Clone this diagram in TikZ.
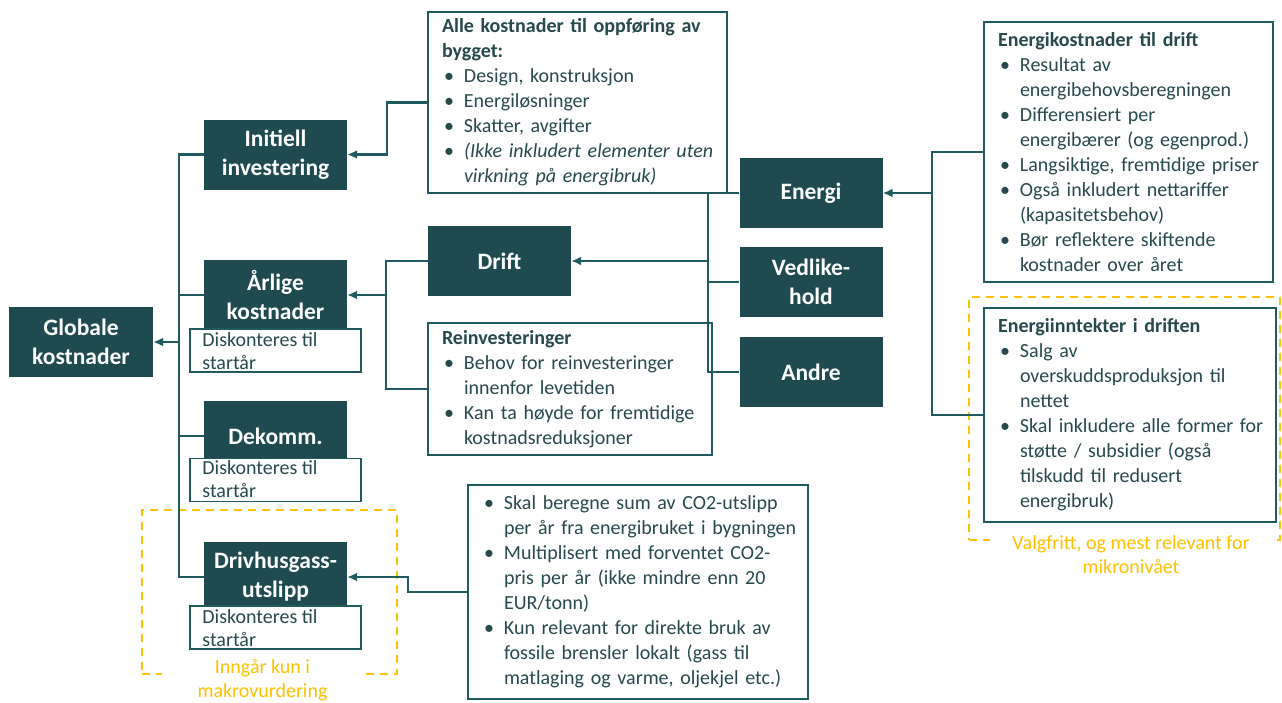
\documentclass[tikz,border=0pt]{standalone}
\usepackage{fontspec}
\setmainfont{Carlito}
\usetikzlibrary{arrows.meta, positioning, calc}
\definecolor{boxfill}{HTML}{1F4B50}
\definecolor{linecol}{HTML}{1F5A5E}
\definecolor{bodytext}{HTML}{28494C}
\definecolor{optcol}{HTML}{FFC000}
\newcommand{\bodysize}{\fontsize{20}{25}\selectfont}
\newcommand{\hd}[1]{\noindent\leftskip=13pt\textbf{#1}\par}
\newcommand{\pkt}[1]{\noindent\leftskip=13pt\hangindent=22pt\hangafter=1\makebox[22pt][l]{\hspace{2pt}\textbullet}#1\par}
\tikzset{
    costbox/.style={rectangle, fill=boxfill, text=white, align=center, font=\bfseries\fontsize{23.5}{29}\selectfont, minimum width=143pt, minimum height=70pt, inner sep=0pt},
    infobox/.style={rectangle, draw=linecol, line width=2.2pt, fill=white, text=bodytext, align=left, font=\bodysize, inner xsep=1pt, inner ysep=0pt},
    discbox/.style={rectangle, draw=linecol, line width=1.6pt, fill=white, minimum width=171pt, minimum height=43pt},
    disctext/.style={anchor=north west, align=left, inner sep=0pt, text=bodytext, font=\fontsize{20}{23}\selectfont},
    optframe/.style={rectangle, draw=optcol, line width=1.8pt, dash pattern=on 8pt off 6pt},
    optlabel/.style={fill=white, text=optcol, align=center, font=\fontsize{20}{24}\selectfont, inner xsep=0pt, inner ysep=2pt},
    link/.style={draw=linecol, line width=2.2pt},
    arrow/.style={link, -{Latex[length=10pt, width=9pt]}}
}
\begin{document}
\begin{tikzpicture}[x=1pt, y=-1pt]
    \useasboundingbox (0,0) rectangle (1282,702);

    % optional parts (dashed frames)
    \node[optframe, minimum width=255pt, minimum height=164pt] (makro) at (269.5,592) {};
    \node[optframe, minimum width=311pt, minimum height=243pt] (mikro) at (1124.5,418.5) {};
    \node[optlabel, minimum width=201pt] (makro-t) at (262.5,680) {Inngår kun i\\makrovurdering};
    \node[optlabel, minimum width=282pt] (mikro-t) at (1131,555) {Valgfritt, og mest relevant for\\mikronivået};

    % cost blocks
    \node[costbox, minimum width=144pt] (glob) at (81,342) {Globale\\kostnader};
    \node[costbox] (ini) at (275.5,154.5) {Initiell\\investering};
    \node[costbox] (arl) at (275.5,295) {Årlige\\kostnader};
    \node[costbox] (dek) at (275.5,436) {Dekomm.};
    \node[costbox] (drv) at (275.5,577) {Drivhusgass-\\utslipp};
    \node[costbox] (drift) at (499.5,261) {Drift};
    \node[costbox] (energi) at (811,193) {Energi};
    \node[costbox] (vedl) at (811,282) {Vedlike-\\hold};
    \node[costbox] (andre) at (811,372) {Andre};

    % discounting notes
    \node[discbox] (disc-a) at (275.5,350.5) {};
    \node[disctext] (disc-a-t) at ($(disc-a.north west)+(13,4)$) {Diskonteres til\\startår};
    \node[discbox] (disc-b) at (275.5,480) {};
    \node[disctext] (disc-b-t) at ($(disc-b.north west)+(13,3)$) {Diskonteres til\\startår};
    \node[discbox] (disc-c) at (275.5,627.5) {};
    \node[disctext] (disc-c-t) at ($(disc-c.north west)+(13,4)$) {Diskonteres til\\startår};

    % text boxes
    \node[infobox, minimum width=299pt, minimum height=181pt, text width=297pt] (alle) at (577.5,102.5) {\hd{Alle kostnader til oppføring av\newline bygget:}\pkt{Design, konstruksjon}\pkt{Energiløsninger}\pkt{Skatter, avgifter}\pkt{\textit{(Ikke inkludert elementer uten\newline virkning på energibruk)}}};
    \node[infobox, minimum width=284pt, minimum height=132pt, text width=282pt] (reinv) at (570,389) {\hd{Reinvesteringer}\pkt{Behov for reinvesteringer\newline innenfor levetiden}\pkt{Kan ta høyde for fremtidige\newline kostnadsreduksjoner}};
    \node[infobox, minimum width=340pt, minimum height=214pt, text width=338pt] (co2) at (638,592) {\pkt{Skal beregne sum av CO2-utslipp\newline per år fra energibruket i bygningen}\pkt{Multiplisert med forventet CO2-\newline pris per år (ikke mindre enn 20\newline EUR/tonn)}\pkt{Kun relevant for direkte bruk av\newline fossile brensler lokalt (gass til\newline matlaging og varme, oljekjel etc.)}};
    \node[infobox, minimum width=289pt, minimum height=260pt, text width=287pt] (ekost) at (1128.5,152) {\hd{Energikostnader til drift}\pkt{Resultat av\newline energibehovsberegningen}\pkt{Differensiert per\newline energibærer (og egenprod.)}\pkt{Langsiktige, fremtidige priser}\pkt{Også inkludert nettariffer\newline (kapasitetsbehov)}\pkt{Bør reflektere skiftende\newline kostnader over året}};
    \node[infobox, minimum width=292pt, minimum height=214pt, text width=290pt] (einn) at (1130,415) {\hd{Energiinntekter i driften}\pkt{Salg av\newline overskuddsproduksjon til\newline nettet}\pkt{Skal inkludere alle former for\newline støtte / subsidier (også\newline tilskudd til redusert\newline energibruk)}};

    % spines for the connectors
    \coordinate (spineL) at (179,0);
    \coordinate (spineI) at (387,0);
    \coordinate (spineA) at (386,0);
    \coordinate (spineC) at (408,0);
    \coordinate (spineD) at (708,0);
    \coordinate (spineE) at (932,0);

    % into Globale kostnader
    \draw[link] (ini.west) -- (ini.west -| spineL) -- (drv.west -| spineL) -- (drv.west);
    \draw[link] (arl.west) -- (arl.west -| spineL);
    \draw[link] (dek.west) -- (dek.west -| spineL);
    \draw[arrow] (glob.east -| spineL) -- (glob.east);

    % into Initiell investering
    \draw[arrow] (alle.west) -- (alle.west -| spineI) |- (ini.east);

    % into Årlige kostnader
    \draw[link] (drift.west) -- (drift.west -| spineA) |- (reinv.west);
    \draw[arrow] (arl.east -| spineA) -- (arl.east);

    % into Drift
    \draw[link] (energi.west) -- (energi.west -| spineD) -- (andre.west -| spineD) -- (andre.west);
    \draw[link] (vedl.west) -- (vedl.west -| spineD);
    \draw[arrow] (drift.east -| spineD) -- (drift.east);

    % into Energi
    \draw[link] (ekost.west) -- (ekost.west -| spineE) -- (einn.west -| spineE) -- (einn.west);
    \draw[arrow] (energi.east -| spineE) -- (energi.east);

    % into Drivhusgassutslipp
    \draw[arrow] (co2.west) -- (co2.west -| spineC) |- (drv.east);
\end{tikzpicture}
\end{document}
